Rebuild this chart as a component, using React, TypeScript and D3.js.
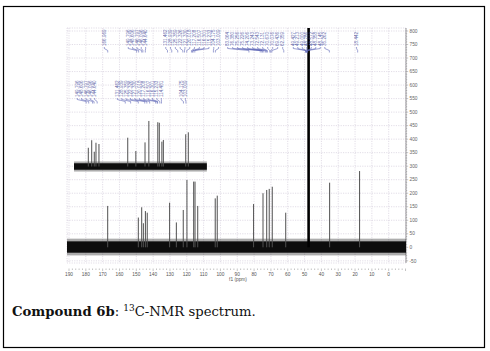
import React from "react";
import * as d3 from "d3";

// main 13C spectrum peaks (ppm, intensity)
const peakPpm = [167.0, 148.8, 146.8, 145.8, 144.6, 143.5, 130.2, 126.2, 122.1, 119.9, 115.9, 115.1, 113.5, 103.1, 101.9, 80.3, 74.7, 72.5, 71.0, 69.2, 61.2, 35.1, 17.3];
const peakInt = [153, 110, 148, 89, 134, 128, 165, 92, 138, 249, 243, 243, 153, 181, 191, 160, 200, 212, 216, 224, 128, 239, 282];
const solventPpm = 47.6;
const solventInt = 1200;

// expanded inset (aromatic region)
const insetPpm = [148.8, 147.2, 146.0, 145.2, 143.8, 130.3, 126.5, 122.2, 120.4, 116.2, 115.5, 114.3, 113.6, 103.1, 101.9];
const insetInt = [104, 146, 82, 132, 125, 160, 86, 134, 253, 246, 243, 138, 147, 179, 190];

// peak label groups: first label position (ppm) + label texts
const topGroupStart = [169.0, 154.8, 132.5, 95.7, 56.7, 19.1];
const topGroupStep = [4.5, 4.35, 4.8, 5.0, 4.5, 4.5];
const topGroupLabels = [
  ["166.969"],
  ["149.796", "148.606", "146.797", "146.096", "144.640"],
  ["131.462", "128.939", "125.359", "122.326", "121.330", "120.018", "117.208", "116.507", "116.301", "115.233", "104.175", "103.009"],
  ["83.064", "76.380", "75.256", "75.226", "74.206", "73.243", "72.543", "72.131", "70.670", "70.076", "69.436", "62.359"],
  ["49.427", "49.213", "49.000", "48.786", "48.572", "48.358", "48.145", "35.262"],
  ["18.442"],
];
const insetGroupStart = [154.0, 135.2, 105.3];
const insetGroupStep = [4.35, 4.4, 4.3];
const insetGroupLabels = [
  ["149.796", "148.606", "146.797", "146.096", "144.640"],
  ["131.462", "128.939", "125.359", "122.326", "121.330", "120.018", "117.208", "116.507", "116.301", "115.233", "114.481"],
  ["104.175", "103.009"],
];

const xTicks = [190, 180, 170, 160, 150, 140, 130, 120, 110, 100, 90, 80, 70, 60, 50, 40, 30, 20, 10, 0];
const yTicks = [800, 750, 700, 650, 600, 550, 500, 450, 400, 350, 300, 250, 200, 150, 100, 50, 0, -50];

const W = 490;
const H = 351;
const plot = { left: 67, right: 406, top: 28, bottom: 263 };

const x = d3.scaleLinear().domain([190, 0]).range([69, 388.7]);
const y = d3.scaleLinear().domain([0, 800]).range([247.3, 31]);
const xi = d3.scaleLinear().domain([148.8, 101.9]).range([88.3, 188.3]);
const yi = d3.scaleLinear().domain([0, 800]).range([166.5, 22.5]);

const labelColor = "#4b519b";
const tickFont = "Liberation Sans, Arial, sans-serif";

function LabelGroups({ starts, steps, groups, scale, bottom, connY }) {
  return (
    <g>
      {groups.map((labels, gi) => {
        const x0 = scale(starts[gi]);
        return labels.map((t, i) => {
          const lx = x0 + i * steps[gi];
          const px = scale(+t);
          return (
            <g key={gi + "-" + i}>
              <text
                transform={`translate(${lx + 1.6},${bottom}) rotate(-90)`}
                fontSize={4.6}
                fontFamily={tickFont}
                fill={labelColor}
                opacity={0.85}
              >
                {t}
              </text>
              <path
                d={`M${lx},${bottom + 1} V${bottom + 2.5} L${px},${connY} V${connY + 2}`}
                fill="none"
                stroke="#5a63b5"
                strokeWidth={0.6}
              />
            </g>
          );
        });
      })}
    </g>
  );
}

export default function App() {
  const gridX = d3.range(190, -11, -10);
  const minorX = d3.range(190, -10.1, -2);
  const minorY = d3.range(-50, 801, 10);

  return (
    <svg
      width={W}
      height={H}
      style={{ position: "absolute", left: 0, top: 0, background: "#fff" }}
    >
      <defs>
        <clipPath id="plotClip">
          <rect x={plot.left} y={plot.top} width={plot.right - plot.left} height={plot.bottom - plot.top} />
        </clipPath>
      </defs>

      {/* dotted grid */}
      <g stroke="#d6cfdc" strokeWidth={0.7} strokeDasharray="1.2,1.2">
        <rect x={plot.left} y={plot.top} width={plot.right - plot.left} height={plot.bottom - plot.top} fill="none" />
        {gridX.map((v) => (
          <line key={"gx" + v} x1={x(v)} x2={x(v)} y1={plot.top} y2={plot.bottom} />
        ))}
        {yTicks.map((v) => (
          <line key={"gy" + v} x1={plot.left} x2={plot.right} y1={y(v)} y2={y(v)} />
        ))}
      </g>

      {/* right intensity axis */}
      <line x1={plot.right} x2={plot.right} y1={plot.top} y2={plot.bottom} stroke="#888" strokeWidth={0.8} />
      {minorY.map((v) => (
        <line key={"my" + v} x1={plot.right} x2={plot.right + (v % 50 === 0 ? 2.2 : 1.2)} y1={y(v)} y2={y(v)} stroke="#888" strokeWidth={0.5} />
      ))}
      {yTicks.map((v) => (
        <text key={"yt" + v} x={plot.right + 3.5} y={y(v) + 1.7} fontSize={4.8} fontFamily={tickFont} fill="#666">
          {v}
        </text>
      ))}

      {/* bottom ppm axis */}
      {minorX.map((v) => (
        <line key={"mx" + v} x1={x(v)} x2={x(v)} y1={268.5} y2={v % 10 === 0 ? 271 : 270} stroke="#888" strokeWidth={0.5} />
      ))}
      {xTicks.map((v) => (
        <text key={"xt" + v} x={x(v)} y={275.5} fontSize={4.8} fontFamily={tickFont} fill="#555" textAnchor="middle">
          {v}
        </text>
      ))}
      <text x={238} y={281} fontSize={4.8} fontFamily={tickFont} fill="#555" textAnchor="middle">
        f1 (ppm)
      </text>

      <g clipPath="url(#plotClip)">
        {/* main baseline noise */}
        <rect x={plot.left} width={plot.right - plot.left} y={y(32)} height={y(-30) - y(32)} fill="#333" opacity={0.4} />
        <rect x={plot.left} width={plot.right - plot.left} y={y(22)} height={y(-20) - y(22)} fill="#0d0d0d" />
        {peakPpm.map((p, i) => (
          <line key={"pk" + i} x1={x(p)} x2={x(p)} y1={y(0)} y2={y(peakInt[i])} stroke="#505050" strokeWidth={1} />
        ))}
        <line x1={x(solventPpm)} x2={x(solventPpm)} y1={y(0)} y2={y(solventInt)} stroke="#000" strokeWidth={2.6} />

        {/* inset */}
        <rect x={xi(155.5)} width={xi(93.2) - xi(155.5)} y={yi(28)} height={yi(-28) - yi(28)} fill="#333" opacity={0.4} />
        <rect x={xi(155.5)} width={xi(93.2) - xi(155.5)} y={yi(18)} height={yi(-18) - yi(18)} fill="#0d0d0d" />
        {insetPpm.map((p, i) => (
          <line key={"ip" + i} x1={xi(p)} x2={xi(p)} y1={yi(0)} y2={yi(insetInt[i])} stroke="#505050" strokeWidth={1} />
        ))}
      </g>

      <LabelGroups starts={topGroupStart} steps={topGroupStep} groups={topGroupLabels} scale={x} bottom={46} connY={50.5} />
      <LabelGroups starts={insetGroupStart} steps={insetGroupStep} groups={insetGroupLabels} scale={xi} bottom={97} connY={101.5} />

      {/* figure frame and caption */}
      <rect x={3.5} y={6.5} width={481} height={341} fill="none" stroke="#000" strokeWidth={1.2} />
      <text x={12} y={315.5} fontFamily="DejaVu Serif, serif" fontSize={13.2} fill="#111">
        <tspan fontWeight="bold">Compound 6b</tspan>
        <tspan>: </tspan>
        <tspan fontSize={9} dy={-5}>13</tspan>
        <tspan dy={5}>C-NMR spectrum.</tspan>
      </text>
    </svg>
  );
}
